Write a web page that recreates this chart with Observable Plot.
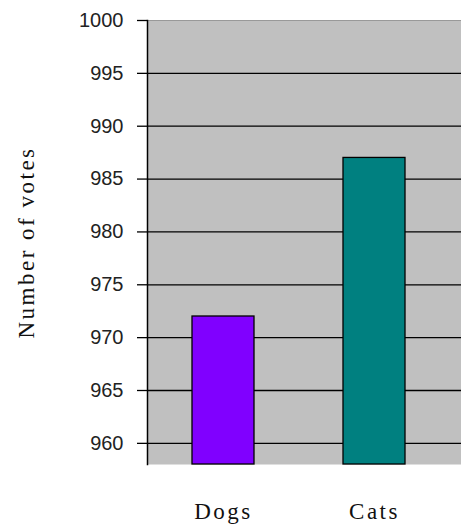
<!DOCTYPE html>
<html>
<head>
<meta charset="utf-8">
<script src="https://cdn.jsdelivr.net/npm/d3@7"></script>
<script src="https://cdn.jsdelivr.net/npm/@observablehq/plot@0.6"></script>
<style>
  html, body { margin: 0; padding: 0; background: #fff; }
  g[aria-label="y-axis label"] text { font-family: "Liberation Serif", serif; font-size: 23px; letter-spacing: 2.5px; fill: #111; }
  g[aria-label="x-axis tick label"] text { font-family: "Liberation Serif", serif; font-size: 23px; letter-spacing: 2.5px; fill: #111; }
</style>
</head>
<body>
<div id="chart"></div>
<script>
const categories = ["Dogs", "Cats"];
const votes = [972, 987];
const colors = ["#8000ff", "#008080"];
const yTicks = [960, 965, 970, 975, 980, 985, 990, 995, 1000];
const yMin = 958;
const yMax = 1000;

const data = categories.map((c, i) => ({category: c, votes: votes[i], color: colors[i]}));

const chart = Plot.plot({
  width: 461,
  height: 529,
  marginLeft: 147,
  marginRight: 0,
  marginTop: 20,
  marginBottom: 65,
  style: {background: "#fff", color: "#111"},
  x: {type: "band", domain: categories, range: [147, 450], paddingInner: 0.59, paddingOuter: 0.295, label: null},
  y: {domain: [yMin, yMax], label: "Number of votes"},
  marks: [
    Plot.frame({fill: "#c0c0c0", stroke: null}),
    Plot.ruleY(yTicks.filter(t => t < yMax), {stroke: "#000", strokeWidth: 1.3}),
    Plot.ruleY([yMax], {stroke: "#999", strokeWidth: 1}),
    Plot.rectY(data, {x: "category", y1: yMin, y2: "votes", fill: "color", stroke: "#000", strokeWidth: 1.3}),
    Plot.frame({anchor: "left", stroke: "#000", strokeWidth: 1.5}),
    Plot.axisY({ticks: yTicks, tickFormat: d => String(d), tickSize: 10, tickPadding: 14, fontSize: 20, fontFamily: "Liberation Sans, Arial, sans-serif", stroke: "#000", strokeWidth: 1.3, label: "Number of votes", labelAnchor: "center", labelOffset: 130, labelArrow: "none", fill: "#222"}),
    Plot.axisX({tickSize: 0, tickPadding: 38, label: null})
  ]
});
document.getElementById("chart").appendChild(chart);
</script>
</body>
</html>
